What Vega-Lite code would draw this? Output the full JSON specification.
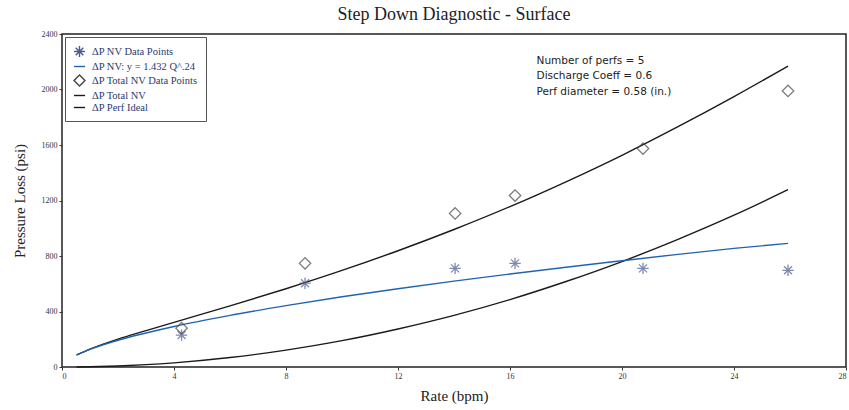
{
  "$schema": "https://vega.github.io/schema/vega-lite/v6.json",
  "autosize": "none",
  "width": 784,
  "height": 333,
  "padding": {"left": 62, "top": 34, "right": 3, "bottom": 43},
  "background": "white",
  "title": {
    "text": "Step Down Diagnostic - Surface",
    "font": "Liberation Serif",
    "fontSize": 18,
    "fontWeight": "normal",
    "color": "#222",
    "offset": 6
  },
  "config": {
    "view": {"stroke": "#222", "strokeWidth": 1.5},
    "axis": {
      "grid": false,
      "domain": false,
      "tickColor": "#333",
      "tickSize": 3,
      "labelFont": "Liberation Serif",
      "labelFontSize": 8,
      "labelColor": "#333",
      "titleFont": "Liberation Serif",
      "titleFontSize": 15,
      "titleFontWeight": "normal",
      "titleColor": "#222"
    }
  },
  "datasets": {
    "lines": [
      {"q": 0.52, "p": 87, "series": "ΔP Total NV"},
      {"q": 1, "p": 129, "series": "ΔP Total NV"},
      {"q": 2, "p": 201, "series": "ΔP Total NV"},
      {"q": 3, "p": 262, "series": "ΔP Total NV"},
      {"q": 4, "p": 322, "series": "ΔP Total NV"},
      {"q": 6, "p": 440, "series": "ΔP Total NV"},
      {"q": 8, "p": 564, "series": "ΔP Total NV"},
      {"q": 10, "p": 696, "series": "ΔP Total NV"},
      {"q": 12, "p": 838, "series": "ΔP Total NV"},
      {"q": 14, "p": 991, "series": "ΔP Total NV"},
      {"q": 16, "p": 1156, "series": "ΔP Total NV"},
      {"q": 18, "p": 1335, "series": "ΔP Total NV"},
      {"q": 20, "p": 1526, "series": "ΔP Total NV"},
      {"q": 22, "p": 1732, "series": "ΔP Total NV"},
      {"q": 24, "p": 1949, "series": "ΔP Total NV"},
      {"q": 25.93, "p": 2169, "series": "ΔP Total NV"},
      {"q": 0.52, "p": 0.5, "series": "ΔP Perf Ideal"},
      {"q": 1, "p": 1.9, "series": "ΔP Perf Ideal"},
      {"q": 2, "p": 7.6, "series": "ΔP Perf Ideal"},
      {"q": 3, "p": 17, "series": "ΔP Perf Ideal"},
      {"q": 4, "p": 30, "series": "ΔP Perf Ideal"},
      {"q": 6, "p": 68, "series": "ΔP Perf Ideal"},
      {"q": 8, "p": 122, "series": "ΔP Perf Ideal"},
      {"q": 10, "p": 190, "series": "ΔP Perf Ideal"},
      {"q": 12, "p": 274, "series": "ΔP Perf Ideal"},
      {"q": 14, "p": 372, "series": "ΔP Perf Ideal"},
      {"q": 16, "p": 486, "series": "ΔP Perf Ideal"},
      {"q": 18, "p": 616, "series": "ΔP Perf Ideal"},
      {"q": 20, "p": 760, "series": "ΔP Perf Ideal"},
      {"q": 22, "p": 920, "series": "ΔP Perf Ideal"},
      {"q": 24, "p": 1094, "series": "ΔP Perf Ideal"},
      {"q": 25.93, "p": 1278, "series": "ΔP Perf Ideal"},
      {"q": 0.52, "p": 86, "series": "ΔP NV: y = 1.432 Q^.24"},
      {"q": 1, "p": 127, "series": "ΔP NV: y = 1.432 Q^.24"},
      {"q": 2, "p": 193, "series": "ΔP NV: y = 1.432 Q^.24"},
      {"q": 3, "p": 245, "series": "ΔP NV: y = 1.432 Q^.24"},
      {"q": 4, "p": 292, "series": "ΔP NV: y = 1.432 Q^.24"},
      {"q": 6, "p": 372, "series": "ΔP NV: y = 1.432 Q^.24"},
      {"q": 8, "p": 442, "series": "ΔP NV: y = 1.432 Q^.24"},
      {"q": 10, "p": 506, "series": "ΔP NV: y = 1.432 Q^.24"},
      {"q": 12, "p": 564, "series": "ΔP NV: y = 1.432 Q^.24"},
      {"q": 14, "p": 619, "series": "ΔP NV: y = 1.432 Q^.24"},
      {"q": 16, "p": 670, "series": "ΔP NV: y = 1.432 Q^.24"},
      {"q": 18, "p": 719, "series": "ΔP NV: y = 1.432 Q^.24"},
      {"q": 20, "p": 766, "series": "ΔP NV: y = 1.432 Q^.24"},
      {"q": 22, "p": 812, "series": "ΔP NV: y = 1.432 Q^.24"},
      {"q": 24, "p": 855, "series": "ΔP NV: y = 1.432 Q^.24"},
      {"q": 25.93, "p": 891, "series": "ΔP NV: y = 1.432 Q^.24"}
    ],
    "points": [
      {"q": 4.27, "p": 230, "series": "ΔP NV Data Points"},
      {"q": 8.68, "p": 604, "series": "ΔP NV Data Points"},
      {"q": 14.04, "p": 711, "series": "ΔP NV Data Points"},
      {"q": 16.18, "p": 747, "series": "ΔP NV Data Points"},
      {"q": 20.75, "p": 711, "series": "ΔP NV Data Points"},
      {"q": 25.93, "p": 697, "series": "ΔP NV Data Points"},
      {"q": 4.27, "p": 280, "series": "ΔP Total NV Data Points"},
      {"q": 8.68, "p": 747, "series": "ΔP Total NV Data Points"},
      {"q": 14.04, "p": 1107, "series": "ΔP Total NV Data Points"},
      {"q": 16.18, "p": 1236, "series": "ΔP Total NV Data Points"},
      {"q": 20.75, "p": 1574, "series": "ΔP Total NV Data Points"},
      {"q": 25.93, "p": 1990, "series": "ΔP Total NV Data Points"}
    ],
    "note": [
      {"label": "Number of perfs  =  5", "q": 16.95, "p": 2245},
      {"label": "Discharge Coeff   =  0.6", "q": 16.95, "p": 2130},
      {"label": "Perf diameter  =  0.58  (in.)", "q": 16.95, "p": 2015}
    ]
  },
  "layer": [
    {
      "data": {"name": "lines"},
      "mark": {"type": "line", "strokeWidth": 1.4, "interpolate": "monotone"},
      "encoding": {
        "x": {
          "field": "q", "type": "quantitative", "title": "Rate (bpm)",
          "scale": {"domain": [0, 28], "nice": false, "zero": false},
          "axis": {"values": [0, 4, 8, 12, 16, 20, 24, 28], "titlePadding": 8, "labelPadding": 2}
        },
        "y": {
          "field": "p", "type": "quantitative", "title": "Pressure Loss (psi)",
          "scale": {"domain": [0, 2400], "nice": false},
          "axis": {"values": [0, 400, 800, 1200, 1600, 2000, 2400], "format": "d", "titlePadding": 14, "labelPadding": 2}
        },
        "detail": {"field": "series"},
        "color": {
          "field": "series", "type": "nominal",
          "scale": {
            "domain": ["ΔP NV Data Points", "ΔP NV: y = 1.432 Q^.24", "ΔP Total NV Data Points", "ΔP Total NV", "ΔP Perf Ideal"],
            "range": ["#4a5a90", "#2163b0", "#444444", "#1a1a1a", "#1a1a1a"]
          },
          "legend": {
            "title": null,
            "orient": "none",
            "legendX": 3,
            "legendY": 3,
            "direction": "vertical",
            "strokeColor": "#555",
            "padding": 8,
            "fillColor": "white",
            "labelFont": "Liberation Serif",
            "labelFontSize": 10.5,
            "labelColor": "#2a3a70",
            "labelOffset": 6,
            "symbolSize": 120,
            "symbolStrokeWidth": 1.4,
            "rowPadding": 0,
            "labelLimit": 200,
            "encode": {
              "symbols": {
                "update": {
                  "shape": {"signal": "datum.value === 'ΔP NV Data Points' ? 'M-1,0L1,0M0,-1L0,1M-0.7,-0.7L0.7,0.7M-0.7,0.7L0.7,-0.7' : (datum.value === 'ΔP Total NV Data Points' ? 'diamond' : 'stroke')"},
                  "fill": {"value": "transparent"},
                  "strokeWidth": {"value": 1.4}
                }
              }
            }
          }
        }
      }
    },
    {
      "data": {"name": "points"},
      "mark": {"type": "point", "filled": false, "strokeWidth": 1.3, "size": 130},
      "encoding": {
        "x": {"field": "q", "type": "quantitative"},
        "y": {"field": "p", "type": "quantitative"},
        "color": {"field": "series", "type": "nominal"},
        "shape": {
          "field": "series", "type": "nominal",
          "scale": {
            "domain": ["ΔP NV Data Points", "ΔP Total NV Data Points"],
            "range": ["M-1,0L1,0M0,-1L0,1M-0.7,-0.7L0.7,0.7M-0.7,0.7L0.7,-0.7", "diamond"]
          },
          "legend": null
        }
      }
    },
    {
      "data": {"name": "note"},
      "mark": {"type": "text", "align": "left", "baseline": "top", "font": "DejaVu Sans", "fontSize": 10.5, "color": "#222"},
      "encoding": {
        "x": {"field": "q", "type": "quantitative"},
        "y": {"field": "p", "type": "quantitative"},
        "text": {"field": "label"}
      }
    }
  ]
}
